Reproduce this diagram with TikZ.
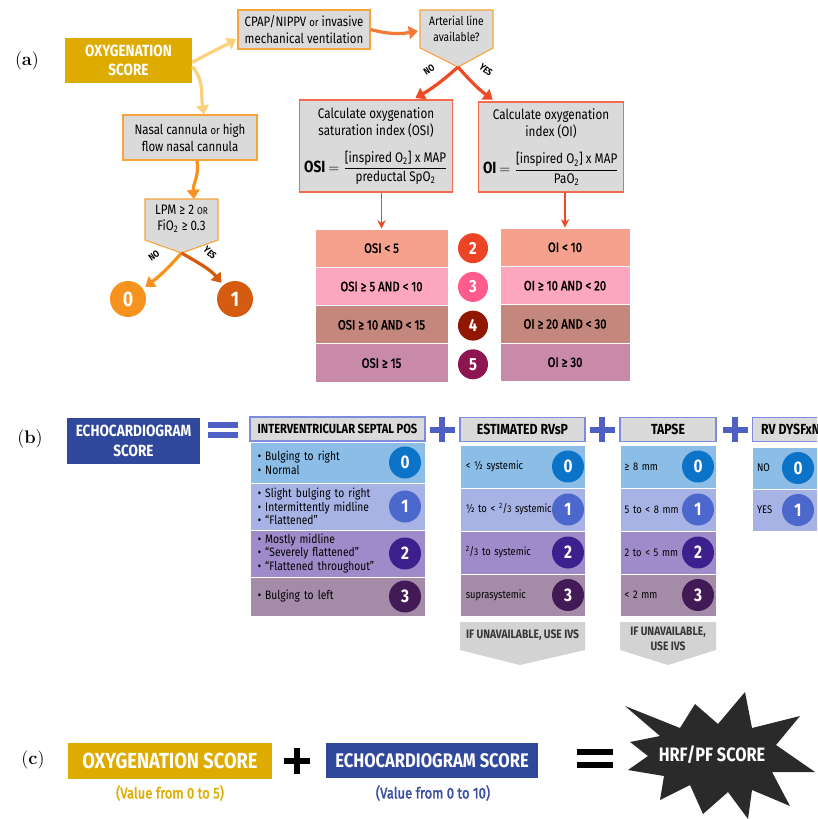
\documentclass[tikz,border=0pt]{standalone}
\usepackage{amsmath}
\usepackage{fontspec}
\setsansfont{Fira Sans}[FakeStretch=0.84]
\newfontfamily\semif{Fira Sans}[FakeStretch=0.84,FakeBold=2]
\usetikzlibrary{arrows.meta}
\definecolor{oxy}{HTML}{DEAC00}
\definecolor{echo}{HTML}{2F489C}
\definecolor{boxgray}{HTML}{DADADA}
\definecolor{oxyline}{HTML}{F6A43C}
\definecolor{osiline}{HTML}{F26B50}
\definecolor{pale}{HTML}{FCD17C}
\definecolor{orng}{HTML}{F6921E}
\definecolor{orng2}{HTML}{F47A38}
\definecolor{dorng}{HTML}{D45B0F}
\definecolor{redo}{HTML}{EF4A26}
\definecolor{ra}{HTML}{F6A18D}
\definecolor{rb}{HTML}{FDA6BF}
\definecolor{rc}{HTML}{C4877D}
\definecolor{rd}{HTML}{C88AA8}
\definecolor{g1}{HTML}{EE4426}
\definecolor{g2}{HTML}{FF5B8D}
\definecolor{g3}{HTML}{911700}
\definecolor{g4}{HTML}{8D1652}
\definecolor{hdline}{HTML}{7D8CDE}
\definecolor{plus}{HTML}{4E60C4}
\definecolor{e0}{HTML}{8BBDE7}
\definecolor{e1}{HTML}{A8B3E5}
\definecolor{e2}{HTML}{A08BCA}
\definecolor{e3}{HTML}{A48CA9}
\definecolor{n0}{HTML}{0B74C8}
\definecolor{n1}{HTML}{4D68CC}
\definecolor{n2}{HTML}{3D1F8E}
\definecolor{n3}{HTML}{421A55}
\definecolor{grayarrow}{HTML}{D3D3D3}
\definecolor{notegray}{HTML}{383838}
\definecolor{starfill}{HTML}{2A2A2A}
\definecolor{echoval}{HTML}{3A4FA0}
\newcommand\fsz[2]{\sffamily\fontsize{#1}{#2}\selectfont}
\newcommand\fsm[2]{\semif\fontsize{#1}{#2}\selectfont}
\begin{document}
\begin{tikzpicture}[x=0.025cm,y=-0.025cm,
gbox/.style={draw=oxyline,fill=boxgray,line width=0.8pt,align=center,font=\fsz{9.7}{12}},
rbox/.style={draw=osiline,fill=boxgray,line width=0.8pt,align=center,font=\fsz{9.9}{12}},
oxybox/.style={fill=oxy,text=white,align=center},
echobox/.style={fill=echo,text=white,align=center},
decis/.style={draw=oxyline,fill=boxgray,line width=0.8pt},
big/.style={line width=2.3pt,-{Triangle[width=9pt,length=6.5pt]}},
lab/.style={font=\fsz{6.8}{7}\bfseries,inner sep=0pt},
num/.style={circle,inner sep=0pt,minimum size=0.9cm,text=white,font=\fsz{15}{15}\bfseries},
trow/.style={draw=white,line width=0.6pt,minimum height=0.96cm,font=\fsm{9.6}{10}},
hdr/.style={draw=hdline,fill=boxgray,line width=0.8pt,minimum height=0.6cm,inner sep=0pt,font=\fsz{10.4}{11}\bfseries},
erow/.style={draw=white,line width=0.6pt,inner sep=0pt},
etext/.style={anchor=west,align=left,inner sep=0pt,text width=3.6cm,font=\fsz{7.9}{9.6}},
enum/.style={circle,inner sep=0pt,minimum size=0.8cm,text=white,font=\fsz{13}{13}\bfseries},
note/.style={align=center,text=notegray,font=\fsz{8.7}{10.5}\bfseries},
thinarrow/.style={line width=1.1pt,-{Stealth[width=6pt,length=6pt]},redo}]
\clip (0,0) rectangle (817,819);

\node(laba) at (27,61) {\rmfamily\fontsize{13}{13}\selectfont(\textbf{a})};
\node[oxybox,minimum width=3.175cm,minimum height=1.125cm,font=\fsz{11.5}{14}\bfseries](oxya) at (128.5,60.5){OXYGENATION\\SCORE};
\node[gbox,minimum width=3.3cm,minimum height=0.975cm](cpap) at (304,29.5){CPAP/NIPPV {\footnotesize or} invasive\\mechanical ventilation};
\node[gbox,minimum width=3.35cm,minimum height=1.125cm](nasal) at (190,137.5){Nasal cannula {\footnotesize or} high\\flow nasal cannula};
\filldraw[decis] (145,199) -- (218,199) -- (218,240) -- (181.5,253) -- (145,240) -- cycle;
\coordinate(lpmtop) at (194,199);
\coordinate(lpmtip) at (181.5,253);
\node[align=center,font=\fsz{9.8}{11.4}](lpm) at (181.5,219){LPM ≥ 2 {\scriptsize OR}\\FiO\textsubscript{2} ≥ 0.3};
\node[num,fill=orng](s0) at (128,299){0};
\node[num,fill=dorng](s1) at (235,299){1};
\filldraw[decis] (420,10) -- (493,10) -- (493,48) -- (458,67) -- (420,48) -- cycle;
\coordinate(artleft) at (418,31);
\coordinate(arttip) at (458,67);
\node[align=center,font=\fsz{8.7}{11.4}](art) at (456.5,29){Arterial line\\available?};
\node[rbox,minimum width=3.8cm,minimum height=2.3cm](osi) at (376,146){Calculate oxygenation\\saturation index (OSI)\\[9pt]{\fontsize{11.5}{11}\selectfont\textbf{OSI}} $=\dfrac{\text{[inspired O\textsubscript{2}] x MAP}}{\text{preductal SpO\textsubscript{2}}}$};
\node[rbox,minimum width=3.45cm,minimum height=2.25cm](oi) at (551,147){Calculate oxygenation\\index (OI)\\[9pt]{\fontsize{11.5}{11}\selectfont\textbf{OI}} $=\dfrac{\text{[inspired O\textsubscript{2}] x MAP}}{\text{PaO\textsubscript{2}}}$};

\draw[big,pale,shorten >=1pt] ([yshift=-0.05cm]oxya.east) to[out=30,in=-150] ([yshift=-0.22cm]cpap.west);
\draw[big,pale] ([yshift=-0.15cm]oxya.east) to[out=-50,in=100] ([xshift=0.35cm]nasal.north);
\draw[big,orng] ([xshift=0.175cm]nasal.south) to[out=-80,in=95] (lpmtop);
\draw[big,orng,shorten >=2pt] (lpmtip) to[bend left=6] (s0);
\draw[big,dorng,shorten >=2pt] (lpmtip) to[out=-30,in=130] (s1);
\node[lab,rotate=37](no1) at (154,256){NO};
\node[lab,rotate=-42](yes1) at (210,253){YES};
\draw[big,orng2] (cpap.east) to[out=-15,in=190] (artleft);
\draw[big,redo,shorten >=2pt] (arttip) to[bend left=6] ([xshift=0.925cm]osi.north);
\draw[big,redo,shorten >=2pt] (arttip) to[bend right=6] ([xshift=-1.4cm]oi.north);
\node[lab,rotate=34](no2) at (429,70){NO};
\node[lab,rotate=-38](yes2) at (486,70){YES};

\foreach \t/\u/\c [count=\i] in {OSI < 5/OI < 10/ra, OSI ≥ 5 AND < 10/OI ≥ 10 AND < 20/rb, OSI ≥ 10 AND < 15/OI ≥ 20 AND < 30/rc, OSI ≥ 15/OI ≥ 30/rd}{
\node[trow,fill=\c,minimum width=3.325cm](osi\i) at (381.5,{209.9+38.3*\i}){\t};
\node[trow,fill=\c,minimum width=3.25cm](oi\i) at (565,{209+38.3*\i}){\u};
\pgfmathtruncatemacro\n{\i+1}
\node[num,fill=g\i,minimum size=0.75cm,font=\fsz{12.5}{12.5}\bfseries](sc\n) at (473,{209.5+38.7*\i}){\n};
}
\draw[thinarrow] (osi1.north |- osi.south) -- (osi1.north);
\draw[thinarrow] (oi1.north |- oi.south) -- (oi1.north);

\node(labb) at (30,439) {\rmfamily\fontsize{13}{13}\selectfont(\textbf{b})};
\node[echobox,minimum width=3.325cm,minimum height=1.15cm,font=\fsz{11.5}{14}\bfseries](echob) at (133.5,441){ECHOCARDIOGRAM\\SCORE};
\fill[plus] (208,422) rectangle (238,428);
\fill[plus] (208,432) rectangle (238,438);
\foreach \px in {442,602,735}{
\fill[plus] (\px-12.5,426.5) rectangle (\px+12.5,432.5);
\fill[plus] (\px-3,417) rectangle (\px+3,442);
}
\node[hdr,minimum width=4.375cm,font=\fsz{9.4}{10}\bfseries](ivs) at (337.5,429){INTERVENTRICULAR SEPTAL POS};
\node[hdr,minimum width=3.125cm](rvsp) at (522.5,429.5){ESTIMATED RVsP};
\node[hdr,minimum width=2.4cm](tapse) at (668,429.5){TAPSE};
\node[hdr,minimum width=1.9cm,anchor=west](rvd) at (752,429.5){RV DYSFxN};

\foreach \yc/\h/\t [count=\i from 0] in {462.5/41/{• Bulging to right\\• Normal}, 506.5/47/{• Slight bulging to right\\• Intermittently midline\\• “Flattened”}, 553.5/47/{• Mostly midline\\• “Severely flattened”\\• “Flattened throughout”}, 596.5/39/{• Bulging to left}}{
\node[erow,fill=e\i,minimum width=4.375cm,minimum height=\h*0.025cm](ivs\i) at (337.5,\yc){};
\node[etext,font=\fsz{8.7}{9.8}](ivst\i) at ([xshift=0.2cm]ivs\i.west){\t};
\node[enum,fill=n\i](ivsn\i) at (405,\yc){\i};
}
\foreach \yc/\h/\t/\u [count=\i from 0] in {466.5/43/{< ½ systemic}/{≥ 8 mm}, 509.5/43/{½ to < \textsuperscript{2}\kern-0.3pt/{\scriptsize 3} systemic}/{5 to < 8 mm}, 552.5/43/{\textsuperscript{2}\kern-0.3pt/{\scriptsize 3} to systemic}/{2 to < 5 mm}, 595/42/{suprasystemic}/{< 2 mm}}{
\node[erow,fill=e\i,minimum width=3.125cm,minimum height=\h*0.025cm](rvsp\i) at (522.5,\yc){};
\node[etext](rvspt\i) at ([xshift=0.15cm]rvsp\i.west){\t};
\node[enum,fill=n\i](rvspn\i) at (568,\yc){\i};
\node[erow,fill=e\i,minimum width=2.4cm,minimum height=\h*0.025cm](tapse\i) at (668,\yc){};
\node[etext](tapset\i) at ([xshift=0.12cm]tapse\i.west){\u};
\node[enum,fill=n\i](tapsen\i) at (698,\yc){\i};
}
\foreach \yc/\t [count=\i from 0] in {468/NO, 510/YES}{
\node[erow,fill=e\i,minimum width=1.9cm,minimum height=1.05cm,anchor=west](rvd\i) at (752,\yc){};
\node[etext](rvdt\i) at ([xshift=0.12cm]rvd\i.west){\t};
\node[enum,fill=n\i](rvdn\i) at (798,\yc){\i};
}
\fill[grayarrow] (460,622) -- (585,622) -- (585,650) -- (520,665) -- (460,650) -- cycle;
\node[note](rvspnote) at (522.5,635){IF UNAVAILABLE, USE IVS};
\fill[grayarrow] (620,622) -- (716,622) -- (716,650) -- (668,665) -- (620,650) -- cycle;
\node[note](tapsenote) at (668,639){IF UNAVAILABLE,\\USE IVS};

\node(labc) at (33,760) {\rmfamily\fontsize{13}{13}\selectfont(\textbf{c})};
\node[oxybox,minimum width=5.1cm,minimum height=0.9cm,font=\fsz{15.5}{16}\bfseries](oxyc) at (170,761){OXYGENATION SCORE};
\node[font=\fsm{11}{11},text=oxy](oxyval) at (170,793){(Value from 0 to 5)};
\fill[black] (284,758) rectangle (310,764);
\fill[black] (294,748) rectangle (300,774);
\node[echobox,minimum width=5.3cm,minimum height=0.875cm,font=\fsz{14}{15}\bfseries](echoc) at (432,760.5){ECHOCARDIOGRAM SCORE};
\node[font=\fsm{11}{11},text=echoval](echoval) at (433,793){(Value from 0 to 10)};
\fill[black] (577,749) rectangle (613,755);
\fill[black] (577,762) rectangle (613,768);
\fill[starfill] (745,692) -- (752,728) -- (800,716) -- (776,745) -- (815,772) -- (772,772) -- (790,806) -- (752,790) -- (748,819) -- (728,792) -- (703,814) -- (690,785) -- (660,800) -- (664,776) -- (628,770) -- (648,756) -- (630,742) -- (660,736) -- (625,706) -- (680,728) -- (695,704) -- (718,724) -- cycle;
\node[text=white,font=\fsz{13.8}{14}\bfseries](hrf) at (712,755){HRF/PF SCORE};
\end{tikzpicture}
\end{document}
